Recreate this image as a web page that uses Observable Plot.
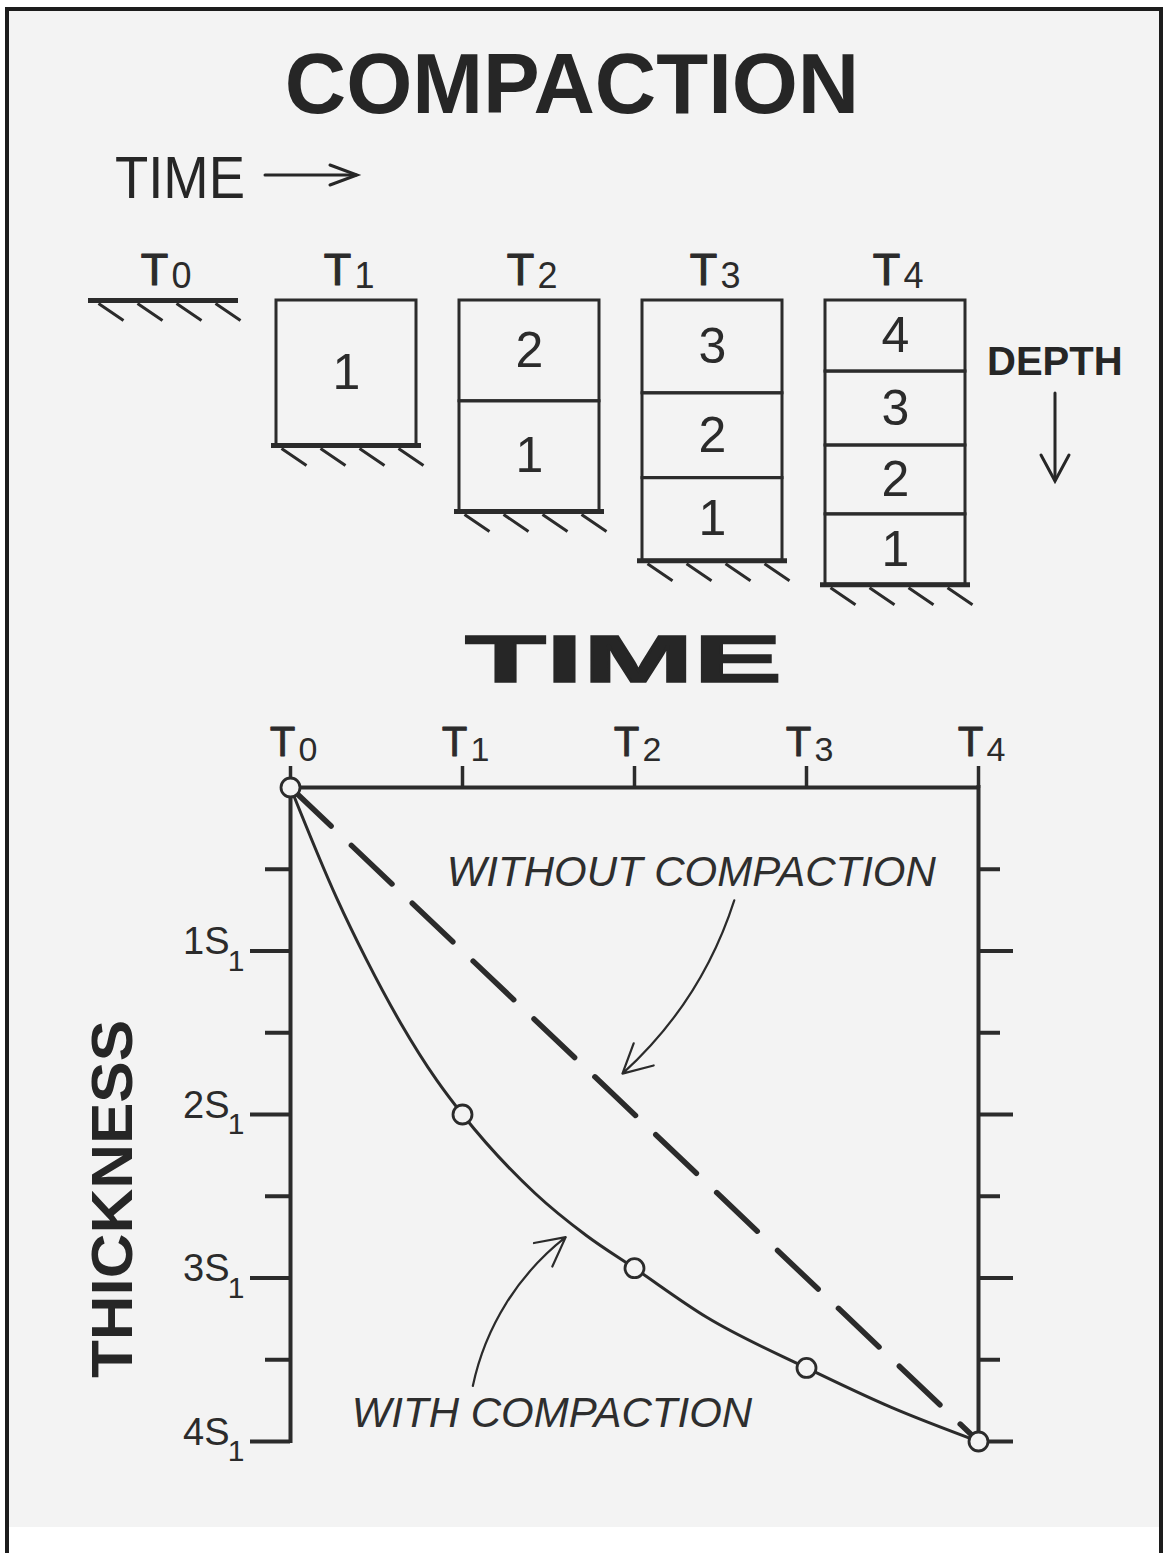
<!DOCTYPE html>
<html>
<head>
<meta charset="utf-8">
<script src="https://cdn.jsdelivr.net/npm/d3@7"></script>
<script src="https://cdn.jsdelivr.net/npm/@observablehq/plot@0.6"></script>
<style>
  body { margin: 0; background: #fff; }
  #page { position: relative; width: 1168px; height: 1553px; overflow: hidden; background: #fff;
          font-family: 'Liberation Sans', Arial, Helvetica, sans-serif; }
  #frame { position: absolute; left: 5px; top: 7px; width: 1150px; height: 1550px;
           border: 4px solid #1c1c1c; border-bottom: none;
           background: linear-gradient(#f3f3f3 0, #f3f3f3 1516px, #ffffff 1516px); }
  .layer { position: absolute; left: 0; width: 1168px; }
  #heads { position: absolute; left: 0; top: 0; pointer-events: none; }
</style>
</head>
<body>
<div id="page">
  <div id="frame"></div>
  <div id="top" class="layer" style="top:210px"></div>
  <div id="bottom" class="layer" style="top:690px"></div>
  <svg id="heads" width="1168" height="1553" font-family="'Liberation Sans', Arial, Helvetica, sans-serif" fill="#262626">
    <text x="572" y="113" text-anchor="middle" font-size="85" font-weight="bold">COMPACTION</text>
    <text x="115" y="198" font-size="60" textLength="130" lengthAdjust="spacingAndGlyphs">TIME</text>
    <g stroke="#262626" stroke-width="3" fill="none" stroke-linecap="round">
      <line x1="265" y1="175" x2="356" y2="175"></line>
      <polyline points="330,165 357,175 330,185"></polyline>
    </g>
    <text x="987" y="375" font-size="40" font-weight="bold">DEPTH</text>
    <g stroke="#262626" stroke-width="3" fill="none" stroke-linecap="round">
      <line x1="1055" y1="393" x2="1055" y2="480"></line>
      <polyline points="1041,455 1055,481 1069,455"></polyline>
    </g>
    <text x="465" y="682" font-size="66" font-weight="bold" textLength="317" lengthAdjust="spacingAndGlyphs" stroke="#262626" stroke-width="1.5">TIME</text>
    <text transform="translate(132,1199) rotate(-90)" text-anchor="middle" font-size="58" font-weight="bold" textLength="358" lengthAdjust="spacingAndGlyphs">THICKNESS</text>
  </svg>
</div>
<script>
// ---------- data ----------
const times = ["T0", "T1", "T2", "T3", "T4"];
const timeDigits = ["0", "1", "2", "3", "4"];

// layer thickness (in S1 units), listed from the top (youngest) layer down
const t1Layers = [2.0];
const t2Layers = [1.39, 1.52];
const t3Layers = [1.28, 1.17, 1.14];
const t4Layers = [0.98, 1.02, 0.95, 0.97];

// bottom graph
const timeTicks = [0, 1, 2, 3, 4];
const thicknessMajor = [1, 2, 3, 4];
const thicknessMinor = [0.5, 1.5, 2.5, 3.5];

const withoutTime = [0, 4];
const withoutThickness = [0, 4];

const withTime      = [0, 0.27, 0.44, 0.64, 0.85, 1.0, 1.42, 1.72, 2.0, 2.42, 3.0, 3.49, 4.0];
const withThickness = [0, 0.68, 1.05, 1.44, 1.79, 2.0, 2.48, 2.74, 2.94, 3.24, 3.55, 3.79, 4.0];

const markTime = [0, 1, 2, 3, 4];
const markThickness = [0, 2.0, 2.94, 3.55, 4.0];

const labelText = ["WITHOUT COMPACTION", "WITH COMPACTION"];
const labelTime = [2.33, 1.52];
const labelThickness = [0.52, 3.83];

const arrowFromTime = [2.58, 1.06];
const arrowFromThickness = [0.69, 3.66];
const arrowToTime = [1.93, 1.60];
const arrowToThickness = [1.75, 2.75];
const arrowBend = [15, 20];

// ---------- derived tables ----------
const ink = "#2b2b2b";
const bg = "#f3f3f3";
const font = "'Liberation Sans', Arial, Helvetica, sans-serif";

const layerSets = [["T1", t1Layers], ["T2", t2Layers], ["T3", t3Layers], ["T4", t4Layers]];
const layerRows = [];
const grounds = [{time: "T0", depth: 0}];
for (const [time, arr] of layerSets) {
  let top = 0;
  arr.forEach((th, i) => {
    layerRows.push({time, layer: arr.length - i, top, bottom: top + th});
    top += th;
  });
  grounds.push({time, depth: top});
}

const hatch = {
  draw(ctx) {
    for (const ox of [-65, -26, 13, 52]) {
      ctx.moveTo(ox, 3);
      ctx.lineTo(ox + 25, 20);
    }
  }
};

const topPlot = Plot.plot({
  width: 1168, height: 400,
  marginTop: 90, marginBottom: 20, marginLeft: 71.5, marginRight: 181.5,
  x: {type: "band", domain: times, paddingInner: 0.18, paddingOuter: 0.09, axis: null},
  y: {domain: [0, 4], reverse: true, axis: null},
  style: {background: "none", overflow: "visible", fontFamily: font, color: ink},
  marks: [
    Plot.barY(layerRows, {x: "time", y1: "top", y2: "bottom", fill: "none", stroke: ink, strokeWidth: 3, insetLeft: 5, insetRight: 5}),
    Plot.text(layerRows, {x: "time", y: d => (d.top + d.bottom) / 2, text: "layer", fontSize: 50, fill: ink}),
    Plot.tickY(grounds, {x: "time", y: "depth", stroke: ink, strokeWidth: 5}),
    Plot.dot(grounds, {x: "time", y: "depth", symbol: hatch, r: 5, fill: "none", stroke: ink, strokeWidth: 3}),
    Plot.text(times, {x: d => d, frameAnchor: "top", dy: -47, dx: -9, text: () => "T", fontSize: 45, fill: ink, stroke: ink, strokeWidth: 1.1}),
    Plot.text(times, {x: d => d, frameAnchor: "top", dy: -38, dx: 8, textAnchor: "start", text: (d, i) => timeDigits[i], fontSize: 36, fill: ink})
  ]
});
document.getElementById("top").appendChild(topPlot);

const withRows = withTime.map((t, i) => ({t, s: withThickness[i]}));
const withoutRows = withoutTime.map((t, i) => ({t, s: withoutThickness[i]}));
const markRows = markTime.map((t, i) => ({t, s: markThickness[i]}));
const labelRows = labelText.map((text, i) => ({text, t: labelTime[i], s: labelThickness[i]}));
const arrowRows = arrowFromTime.map((t, i) => ({t1: t, s1: arrowFromThickness[i], t2: arrowToTime[i], s2: arrowToThickness[i], bend: arrowBend[i]}));

const arrowOpts = {x1: "t1", y1: "s1", x2: "t2", y2: "s2", headLength: 22, headAngle: 55, stroke: ink, strokeWidth: 2.2};

const bottomPlot = Plot.plot({
  width: 1168, height: 800,
  marginTop: 97, marginBottom: 49, marginLeft: 290, marginRight: 190,
  x: {domain: [0, 4]},
  y: {domain: [0, 4], reverse: true},
  style: {background: "none", overflow: "visible", fontFamily: font, color: ink},
  marks: [
    Plot.axisX({anchor: "top", ticks: timeTicks, tickSize: 22, tickFormat: () => "", label: null, stroke: ink, strokeWidth: 3.5}),
    Plot.axisY({anchor: "left", ticks: thicknessMajor, tickSize: 40, tickFormat: () => "", label: null, stroke: ink, strokeWidth: 4}),
    Plot.axisY({anchor: "left", ticks: thicknessMinor, tickSize: 25, tickFormat: () => "", label: null, stroke: ink, strokeWidth: 4}),
    Plot.axisY({anchor: "right", ticks: thicknessMajor, tickSize: 34, tickFormat: () => "", label: null, stroke: ink, strokeWidth: 4}),
    Plot.axisY({anchor: "right", ticks: thicknessMinor, tickSize: 21, tickFormat: () => "", label: null, stroke: ink, strokeWidth: 4}),
    Plot.ruleY([0], {stroke: ink, strokeWidth: 4, strokeLinecap: "square"}),
    Plot.ruleX([0], {stroke: ink, strokeWidth: 4, strokeLinecap: "square"}),
    Plot.ruleX([4], {stroke: ink, strokeWidth: 4, strokeLinecap: "square"}),
    Plot.text(timeTicks, {x: d => d, frameAnchor: "top", dy: -61, dx: -8, text: () => "T", fontSize: 42, fill: ink, stroke: ink, strokeWidth: 0.8}),
    Plot.text(timeTicks, {x: d => d, frameAnchor: "top", dy: -51, dx: 8, textAnchor: "start", text: d => String(d), fontSize: 34, fill: ink}),
    Plot.text(thicknessMajor, {y: d => d, frameAnchor: "left", dx: -61, dy: -9, textAnchor: "end", text: d => `${d}S`, fontSize: 38, fill: ink}),
    Plot.text(thicknessMajor, {y: d => d, frameAnchor: "left", dx: -46, dy: 10, textAnchor: "end", text: () => "1", fontSize: 30, fill: ink}),
    Plot.line(withoutRows, {x: "t", y: "s", stroke: ink, strokeWidth: 5.5, strokeDasharray: "56 28"}),
    Plot.line(withRows, {x: "t", y: "s", curve: "monotone-x", stroke: ink, strokeWidth: 3}),
    Plot.arrow(arrowRows.filter(d => d.bend === arrowBend[0]), {...arrowOpts, bend: arrowBend[0]}),
    Plot.arrow(arrowRows.filter(d => d.bend === arrowBend[1]), {...arrowOpts, bend: arrowBend[1]}),
    Plot.text(labelRows, {x: "t", y: "s", text: "text", fontStyle: "italic", fontSize: 42, fill: "#2e2e2e"}),
    Plot.dot(markRows, {x: "t", y: "s", r: 9.5, fill: bg, stroke: ink, strokeWidth: 2.8})
  ]
});
document.getElementById("bottom").appendChild(bottomPlot);
</script>
</body>
</html>
